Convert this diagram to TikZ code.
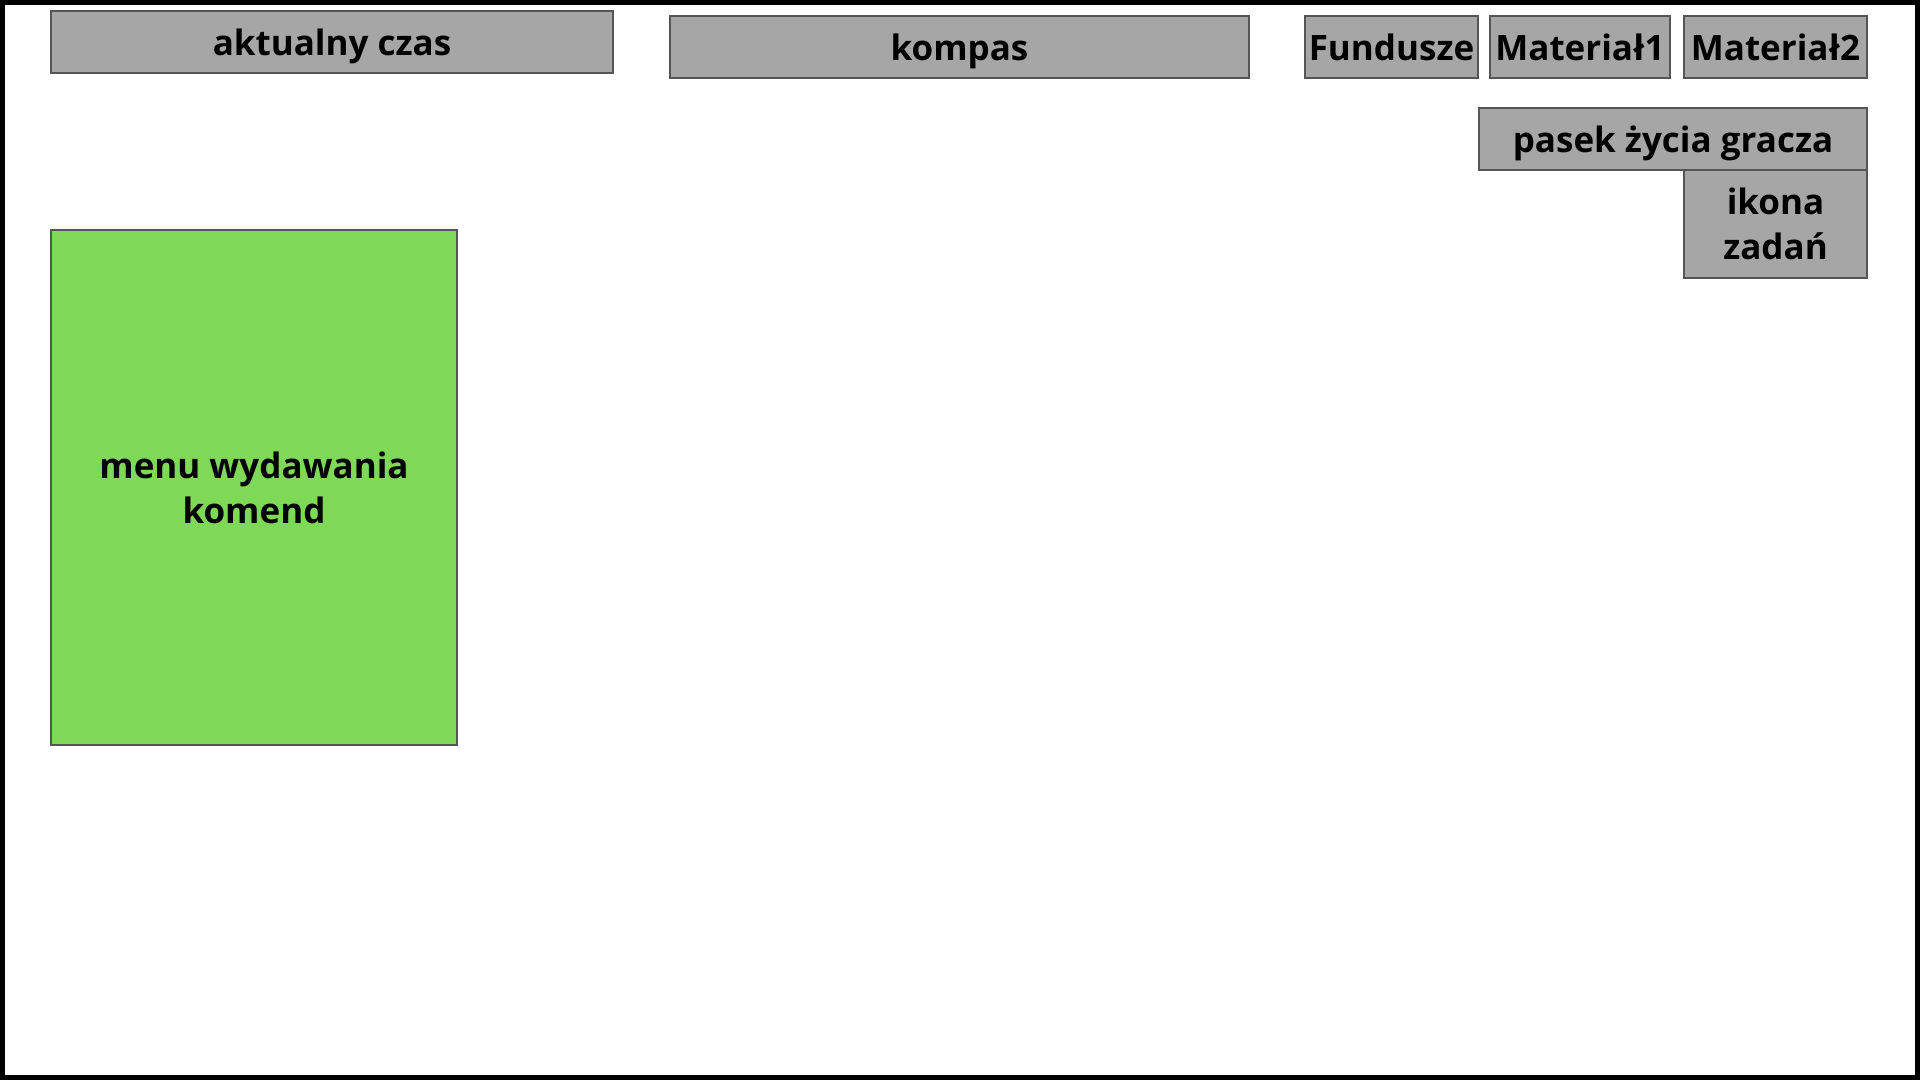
\documentclass[tikz,border=0pt]{standalone}
\usepackage{fontspec}
\setmainfont{Open Sans}
\usetikzlibrary{positioning}

\definecolor{panelgray}{HTML}{A6A6A6}
\definecolor{menugreen}{HTML}{7ED957}
\definecolor{edgegray}{HTML}{555555}

\tikzset{
  panel/.style={draw=edgegray, fill=panelgray, line width=1.2pt,
                inner sep=0pt, outer sep=0pt, align=center, text depth=0pt,
                font=\bfseries\fontsize{35}{45}\selectfont},
  menubox/.style={panel, fill=menugreen},
}

\begin{document}
\begin{tikzpicture}[x=1pt,y=-1pt]

  \useasboundingbox (0,0) rectangle (1920,1080);
  \draw[line width=5pt] (2.5,2.5) rectangle (1917.5,1077.5);

  \node[panel, minimum width=562pt, minimum height=62pt, anchor=north west] (czas) at (51,11) {aktualny czas};
  \node[panel, minimum width=579pt, minimum height=62pt, anchor=north west] (kompas) at (670,16) {kompas};
  \node[panel, minimum width=173pt, minimum height=62pt, anchor=north west] (fundusze) at (1305,16) {Fundusze};
  \node[panel, minimum width=180pt, minimum height=62pt, right=12pt of fundusze] (mat1) {Materiał1};
  \node[panel, minimum width=183pt, minimum height=62pt, right=14pt of mat1] (mat2) {Materiał2};

  % prawa kolumna pod zasobami
  \node[panel, minimum width=388pt, minimum height=62pt,
        below left=30pt and 0pt of mat2.south east] (zycie) {pasek życia gracza};
  \node[panel, minimum width=183pt, minimum height=108pt,
        below left=0pt and 0pt of zycie.south east] (zadania) {ikona\\zadań};

  \node[menubox, minimum width=406pt, minimum height=515pt, anchor=north west] (komendy) at (51,230) {menu wydawania\\komend};

\end{tikzpicture}
\end{document}
